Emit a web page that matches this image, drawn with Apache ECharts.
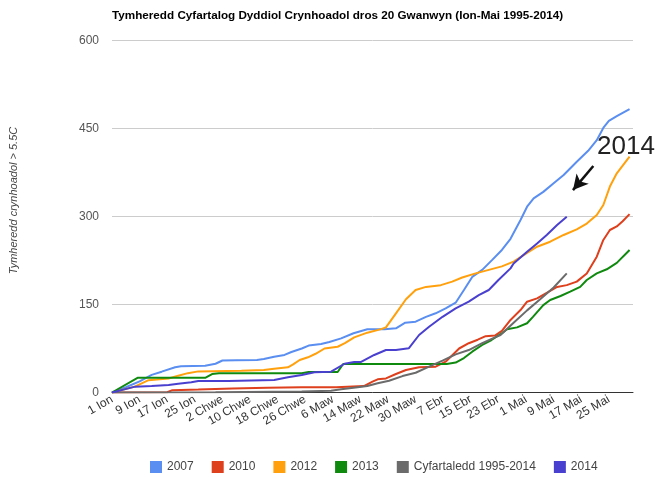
<!DOCTYPE html>
<html><head><meta charset="utf-8">
<script src="https://cdn.jsdelivr.net/npm/echarts@6/dist/echarts.min.js"></script>
<style>html,body{margin:0;padding:0;background:#fff}#c{width:656px;height:478px}</style>
</head><body><div id="c"></div>
<script>
// x = day index from 1 Ion (0) to 31 Mai (150)
const tickLabels = ['1 Ion','9 Ion','17 Ion','25 Ion','2 Chwe','10 Chwe','18 Chwe','26 Chwe','6 Maw','14 Maw','22 Maw','30 Maw','7 Ebr','15 Ebr','23 Ebr','1 Mai','9 Mai','17 Mai','25 Mai'];
const seriesNames = ['2007','2010','2012','2013','Cyfartaledd 1995-2014','2014'];
const seriesColors = ['#5a8ef0','#de3f1c','#ffa00c','#0f8a0f','#6b6b6b','#4a40cf'];

const s2007 = [[0,0],[4,9],[8,19],[11.5,30],[14.4,35.5],[18.3,43],[20,44.6],[27,45.7],[30,49],[32,54.5],[36,55],[42,55.4],[44,57],[47,61],[50,64],[52,69],[55,75],[57,80],[60.6,82.6],[63,86],[66.4,92.3],[70,101],[74,107.7],[79,108],[82.3,109.4],[85,119],[88,120.7],[91,129],[93.8,135],[96.7,143.5],[99.6,153],[102,174.7],[104.4,197],[107.3,209],[110.2,226],[113,243],[115.5,262],[118.4,294],[120.3,316.7],[122.2,331],[125,342],[128,356.6],[130.9,370.7],[134.7,393.4],[138,412],[140.5,430],[142.5,452],[144,463],[146.3,471],[150,483]];
const s2010 = [[0,0],[16,0.5],[17.5,4],[25,5],[35,7],[45,8],[55,9],[65,9],[73,11],[75.5,18.4],[77,22.5],[79.4,24],[82.3,31.5],[85.2,38.4],[89,43],[93.8,44],[96.7,52.5],[100.6,75],[103.4,84],[106,90],[108.3,96],[111,97],[113,105],[115.5,123.6],[118.4,140.6],[120.3,154.8],[123.2,160.5],[126,170],[129,180],[131.8,183],[134.7,189],[137.6,203],[140.5,231.5],[142.4,260],[144.3,277],[146.3,283],[148,292],[150,304]];
const s2012 = [[0,0],[6.6,10],[10.6,21],[13,22],[16.4,24],[19.2,28.7],[22,33],[25,36],[37.5,37],[44,38.4],[47,40.6],[51,43],[52.5,48],[54.4,55.4],[56.8,60],[59,66],[61.6,75],[65.4,78],[67.5,84],[70.2,94],[74,102],[78,108],[79.4,111],[82.3,135],[85.2,159],[88,174.7],[91,180],[95.3,183],[98.6,189],[101.5,196],[105.4,203],[109.2,209],[113,215],[116.4,223],[120.3,238],[123.2,248.5],[127,257],[130.9,268.5],[134.7,278],[137.6,288],[140.5,302.5],[142.4,319.6],[144.3,351],[146.3,373.6],[150,402]];
const s2013 = [[0,0],[7.4,25],[27,25],[29,31.5],[31,33],[55,33],[57,35],[65.4,35],[67,48.6],[97,48.6],[99.6,51],[102,58.7],[104.4,69.6],[107.3,81],[110,89.5],[113,101],[114.5,107.7],[117.4,111],[120.3,118],[122,129],[125,149],[127,157.7],[130,164.5],[132.8,171.8],[135.7,180],[137.6,191.8],[140.5,203],[143.4,210],[146.3,221],[150,243]];
const sAvg = [[0,0],[30,0.5],[55,1.5],[63.5,3],[66.4,5.4],[71.2,9],[74,11],[77,15.7],[80.3,20],[84.2,28],[88,33.7],[91.9,44],[95.8,54.2],[99.6,65],[103.4,72.4],[107.3,84],[111,94],[112.6,98],[116.4,119],[120.3,140],[124.1,159],[128,179],[131.8,203]];
const s2014 = [[0,0],[6.7,10],[11.5,11],[16.4,12.8],[19.2,15],[23,17.4],[25,19.6],[33.7,19.6],[47,21.3],[51,26],[55,30],[58.7,34.4],[63.5,35.5],[67.4,49],[70.2,52],[72.2,52],[76,64],[79.4,72.4],[82.3,72.4],[86,75.3],[89,98],[91.9,112],[95.8,129],[99.6,143.5],[103.4,154.8],[106.3,166],[109.2,174.7],[112,191.8],[115.5,211.6],[116.4,220],[120.3,240],[123.2,254],[126,268.5],[129,285.5],[131.8,299.7]];
const seriesData = [s2007, s2010, s2012, s2013, sAvg, s2014];
// annotation arrow (data coords)
const arrowFrom = [139.5, 386];
const arrowTo = [133.6, 345];

const chart = echarts.init(document.getElementById('c'));
const series = seriesData.map((d, i) => ({
  name: seriesNames[i], type: 'line', data: d, showSymbol: false, symbol: 'none',
  lineStyle: { width: 2, color: seriesColors[i] }, itemStyle: { color: seriesColors[i] },
  animation: false
}));
series[5].markLine = {
  silent: true, symbol: ['none', 'arrow'], symbolSize: [12, 15],
  lineStyle: { color: '#111', width: 2.5, type: 'solid' },
  label: { show: false },
  data: [[{ coord: arrowFrom }, { coord: arrowTo }]],
  animation: false
};
chart.setOption({
  animation: false,
  title: {
    text: 'Tymheredd Cyfartalog Dyddiol Crynhoadol dros 20 Gwanwyn (Ion-Mai 1995-2014)',
    left: 107, top: 5,
    textStyle: { fontFamily: 'Liberation Sans, Arial', fontSize: 11.7, fontWeight: 'bold', color: '#000' }
  },
  grid: { left: 110, right: 23, top: 40.5, bottom: 85.5, containLabel: false },
  legend: {
    left: 145, top: 456, icon: 'rect', itemWidth: 12, itemHeight: 12, itemGap: 18,
    textStyle: { fontFamily: 'Liberation Sans, Arial', fontSize: 12, color: '#444' },
    data: seriesNames
  },
  xAxis: {
    type: 'value', min: 0, max: 151, interval: 8,
    axisLine: { show: true, lineStyle: { color: '#333', width: 1 } },
    axisTick: { show: false },
    splitLine: { show: false },
    axisLabel: {
      rotate: 30, margin: 6, fontFamily: 'Liberation Sans, Arial', fontSize: 12, color: '#333',
      showMaxLabel: false,
      formatter: v => { const i = v / 8; return Number.isInteger(i) && i < tickLabels.length ? tickLabels[i] : ''; }
    }
  },
  yAxis: {
    type: 'value', min: 0, max: 600, interval: 150,
    name: 'Tymheredd crynhoadol > 5.5C', nameLocation: 'middle', nameGap: 93,
    nameTextStyle: { fontFamily: 'Liberation Sans, Arial', fontSize: 11, fontStyle: 'italic', color: '#444', padding: [0, 0, 0, 32] },
    axisLine: { show: false }, axisTick: { show: false },
    splitLine: { lineStyle: { color: '#cccccc', width: 1 } },
    axisLabel: { margin: 13, fontFamily: 'Liberation Sans, Arial', fontSize: 12, color: '#555' }
  },
  graphic: [{
    type: 'text', left: 597, top: 134,
    style: { text: '2014', fontFamily: 'Liberation Sans, Arial', fontSize: 26, fill: '#222' }
  }],
  series: series
});
</script>
</body></html>
